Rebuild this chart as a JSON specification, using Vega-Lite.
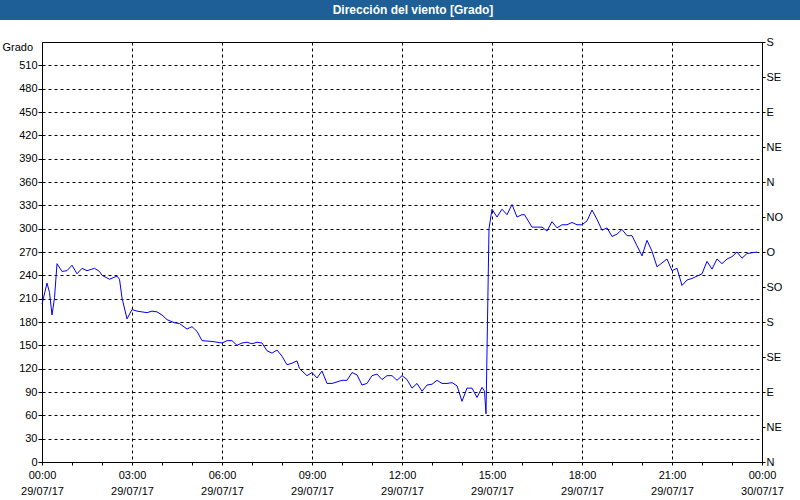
{
  "$schema": "https://vega.github.io/schema/vega-lite/v6.json",
  "padding": 0,
  "background": "white",
  "spacing": 15,
  "config": {
    "view": {"stroke": null},
    "font": "Liberation Sans",
    "axis": {
      "labelFont": "Liberation Sans",
      "labelFontSize": 11,
      "labelColor": "black",
      "tickColor": "black",
      "domainColor": "black",
      "titleFont": "Liberation Sans",
      "titleColor": "black",
      "labelFlush": false,
      "labelOverlap": false
    }
  },
  "vconcat": [
    {
      "width": 800,
      "height": 20,
      "view": {"fill": "#1d5f96", "stroke": null},
      "data": {"values": [{"title": "Dirección del viento [Grado]"}]},
      "mark": {"type": "text", "color": "white", "font": "Liberation Sans", "fontSize": 12, "fontWeight": "bold", "dx": 13, "align": "center", "baseline": "middle"},
      "encoding": {"text": {"field": "title"}}
    },
    {
      "spacing": 0,
      "hconcat": [
        {
          "width": 1,
          "height": 420,
          "data": {"values": []},
          "mark": "point"
        },
        {
          "width": 720,
          "height": 420,
          "view": {"stroke": "black", "fill": "white"},
          "data": {"values": [
            {"t": "2017-07-29T00:00", "v": 203},
            {"t": "2017-07-29T00:10", "v": 230},
            {"t": "2017-07-29T00:15", "v": 218},
            {"t": "2017-07-29T00:20", "v": 189},
            {"t": "2017-07-29T00:25", "v": 211},
            {"t": "2017-07-29T00:30", "v": 255},
            {"t": "2017-07-29T00:40", "v": 245},
            {"t": "2017-07-29T00:50", "v": 246},
            {"t": "2017-07-29T01:00", "v": 253},
            {"t": "2017-07-29T01:10", "v": 242},
            {"t": "2017-07-29T01:20", "v": 249},
            {"t": "2017-07-29T01:30", "v": 246},
            {"t": "2017-07-29T01:40", "v": 248},
            {"t": "2017-07-29T01:45", "v": 249},
            {"t": "2017-07-29T01:55", "v": 245},
            {"t": "2017-07-29T02:00", "v": 240},
            {"t": "2017-07-29T02:15", "v": 235},
            {"t": "2017-07-29T02:30", "v": 239},
            {"t": "2017-07-29T02:35", "v": 235},
            {"t": "2017-07-29T02:40", "v": 211},
            {"t": "2017-07-29T02:50", "v": 184},
            {"t": "2017-07-29T03:00", "v": 196},
            {"t": "2017-07-29T03:10", "v": 194},
            {"t": "2017-07-29T03:30", "v": 192},
            {"t": "2017-07-29T03:40", "v": 194},
            {"t": "2017-07-29T03:50", "v": 193},
            {"t": "2017-07-29T04:00", "v": 189},
            {"t": "2017-07-29T04:10", "v": 183},
            {"t": "2017-07-29T04:25", "v": 179},
            {"t": "2017-07-29T04:35", "v": 178},
            {"t": "2017-07-29T04:50", "v": 171},
            {"t": "2017-07-29T05:00", "v": 174},
            {"t": "2017-07-29T05:05", "v": 171},
            {"t": "2017-07-29T05:10", "v": 168},
            {"t": "2017-07-29T05:20", "v": 156},
            {"t": "2017-07-29T05:40", "v": 155},
            {"t": "2017-07-29T06:00", "v": 153},
            {"t": "2017-07-29T06:10", "v": 156},
            {"t": "2017-07-29T06:20", "v": 156},
            {"t": "2017-07-29T06:30", "v": 150},
            {"t": "2017-07-29T06:40", "v": 153},
            {"t": "2017-07-29T06:50", "v": 154},
            {"t": "2017-07-29T07:00", "v": 152},
            {"t": "2017-07-29T07:10", "v": 154},
            {"t": "2017-07-29T07:20", "v": 153},
            {"t": "2017-07-29T07:30", "v": 143},
            {"t": "2017-07-29T07:40", "v": 140},
            {"t": "2017-07-29T07:50", "v": 144},
            {"t": "2017-07-29T08:00", "v": 136},
            {"t": "2017-07-29T08:10", "v": 125},
            {"t": "2017-07-29T08:20", "v": 127},
            {"t": "2017-07-29T08:30", "v": 130},
            {"t": "2017-07-29T08:35", "v": 120},
            {"t": "2017-07-29T08:50", "v": 111},
            {"t": "2017-07-29T09:00", "v": 115},
            {"t": "2017-07-29T09:10", "v": 108},
            {"t": "2017-07-29T09:20", "v": 117},
            {"t": "2017-07-29T09:30", "v": 101},
            {"t": "2017-07-29T09:40", "v": 101},
            {"t": "2017-07-29T09:50", "v": 103},
            {"t": "2017-07-29T10:00", "v": 105},
            {"t": "2017-07-29T10:10", "v": 105},
            {"t": "2017-07-29T10:20", "v": 115},
            {"t": "2017-07-29T10:30", "v": 112},
            {"t": "2017-07-29T10:40", "v": 99},
            {"t": "2017-07-29T10:50", "v": 101},
            {"t": "2017-07-29T11:00", "v": 111},
            {"t": "2017-07-29T11:10", "v": 113},
            {"t": "2017-07-29T11:20", "v": 106},
            {"t": "2017-07-29T11:30", "v": 111},
            {"t": "2017-07-29T11:40", "v": 111},
            {"t": "2017-07-29T11:50", "v": 105},
            {"t": "2017-07-29T12:00", "v": 111},
            {"t": "2017-07-29T12:10", "v": 106},
            {"t": "2017-07-29T12:20", "v": 95},
            {"t": "2017-07-29T12:30", "v": 101},
            {"t": "2017-07-29T12:40", "v": 91},
            {"t": "2017-07-29T12:50", "v": 99},
            {"t": "2017-07-29T13:00", "v": 100},
            {"t": "2017-07-29T13:10", "v": 105},
            {"t": "2017-07-29T13:20", "v": 101},
            {"t": "2017-07-29T13:30", "v": 101},
            {"t": "2017-07-29T13:40", "v": 102},
            {"t": "2017-07-29T13:50", "v": 98},
            {"t": "2017-07-29T14:00", "v": 78},
            {"t": "2017-07-29T14:10", "v": 95},
            {"t": "2017-07-29T14:20", "v": 95},
            {"t": "2017-07-29T14:30", "v": 83},
            {"t": "2017-07-29T14:40", "v": 96},
            {"t": "2017-07-29T14:45", "v": 91},
            {"t": "2017-07-29T14:48", "v": 62},
            {"t": "2017-07-29T14:54", "v": 300},
            {"t": "2017-07-29T15:00", "v": 325},
            {"t": "2017-07-29T15:10", "v": 315},
            {"t": "2017-07-29T15:20", "v": 325},
            {"t": "2017-07-29T15:30", "v": 318},
            {"t": "2017-07-29T15:40", "v": 331},
            {"t": "2017-07-29T15:50", "v": 315},
            {"t": "2017-07-29T16:00", "v": 318},
            {"t": "2017-07-29T16:05", "v": 318},
            {"t": "2017-07-29T16:20", "v": 302},
            {"t": "2017-07-29T16:30", "v": 302},
            {"t": "2017-07-29T16:40", "v": 302},
            {"t": "2017-07-29T16:50", "v": 297},
            {"t": "2017-07-29T17:00", "v": 309},
            {"t": "2017-07-29T17:10", "v": 301},
            {"t": "2017-07-29T17:20", "v": 305},
            {"t": "2017-07-29T17:30", "v": 305},
            {"t": "2017-07-29T17:40", "v": 308},
            {"t": "2017-07-29T17:50", "v": 305},
            {"t": "2017-07-29T18:00", "v": 305},
            {"t": "2017-07-29T18:10", "v": 310},
            {"t": "2017-07-29T18:20", "v": 324},
            {"t": "2017-07-29T18:30", "v": 312},
            {"t": "2017-07-29T18:40", "v": 298},
            {"t": "2017-07-29T18:50", "v": 301},
            {"t": "2017-07-29T19:00", "v": 290},
            {"t": "2017-07-29T19:10", "v": 293},
            {"t": "2017-07-29T19:20", "v": 299},
            {"t": "2017-07-29T19:30", "v": 291},
            {"t": "2017-07-29T19:40", "v": 291},
            {"t": "2017-07-29T19:50", "v": 278},
            {"t": "2017-07-29T20:00", "v": 265},
            {"t": "2017-07-29T20:10", "v": 285},
            {"t": "2017-07-29T20:20", "v": 271},
            {"t": "2017-07-29T20:30", "v": 251},
            {"t": "2017-07-29T20:40", "v": 256},
            {"t": "2017-07-29T20:50", "v": 261},
            {"t": "2017-07-29T21:00", "v": 246},
            {"t": "2017-07-29T21:10", "v": 249},
            {"t": "2017-07-29T21:20", "v": 227},
            {"t": "2017-07-29T21:30", "v": 234},
            {"t": "2017-07-29T21:40", "v": 236},
            {"t": "2017-07-29T21:50", "v": 239},
            {"t": "2017-07-29T22:00", "v": 242},
            {"t": "2017-07-29T22:10", "v": 258},
            {"t": "2017-07-29T22:20", "v": 248},
            {"t": "2017-07-29T22:30", "v": 261},
            {"t": "2017-07-29T22:40", "v": 255},
            {"t": "2017-07-29T22:50", "v": 261},
            {"t": "2017-07-29T23:00", "v": 264},
            {"t": "2017-07-29T23:10", "v": 270},
            {"t": "2017-07-29T23:20", "v": 262},
            {"t": "2017-07-29T23:30", "v": 268},
            {"t": "2017-07-29T23:50", "v": 270}
          ]},
          "encoding": {
            "x": {
              "field": "t",
              "type": "temporal",
              "scale": {"domain": [{"year": 2017, "month": 7, "date": 29, "hours": 0}, {"year": 2017, "month": 7, "date": 30, "hours": 0}]},
              "axis": {
                "title": null,
                "values": [
                  {"year": 2017, "month": 7, "date": 29, "hours": 0},
                  {"year": 2017, "month": 7, "date": 29, "hours": 1},
                  {"year": 2017, "month": 7, "date": 29, "hours": 2},
                  {"year": 2017, "month": 7, "date": 29, "hours": 3},
                  {"year": 2017, "month": 7, "date": 29, "hours": 4},
                  {"year": 2017, "month": 7, "date": 29, "hours": 5},
                  {"year": 2017, "month": 7, "date": 29, "hours": 6},
                  {"year": 2017, "month": 7, "date": 29, "hours": 7},
                  {"year": 2017, "month": 7, "date": 29, "hours": 8},
                  {"year": 2017, "month": 7, "date": 29, "hours": 9},
                  {"year": 2017, "month": 7, "date": 29, "hours": 10},
                  {"year": 2017, "month": 7, "date": 29, "hours": 11},
                  {"year": 2017, "month": 7, "date": 29, "hours": 12},
                  {"year": 2017, "month": 7, "date": 29, "hours": 13},
                  {"year": 2017, "month": 7, "date": 29, "hours": 14},
                  {"year": 2017, "month": 7, "date": 29, "hours": 15},
                  {"year": 2017, "month": 7, "date": 29, "hours": 16},
                  {"year": 2017, "month": 7, "date": 29, "hours": 17},
                  {"year": 2017, "month": 7, "date": 29, "hours": 18},
                  {"year": 2017, "month": 7, "date": 29, "hours": 19},
                  {"year": 2017, "month": 7, "date": 29, "hours": 20},
                  {"year": 2017, "month": 7, "date": 29, "hours": 21},
                  {"year": 2017, "month": 7, "date": 29, "hours": 22},
                  {"year": 2017, "month": 7, "date": 29, "hours": 23},
                  {"year": 2017, "month": 7, "date": 30, "hours": 0}
                ],
                "labelExpr": "hours(datum.value) % 3 == 0 ? [timeFormat(datum.value, '%H:%M'), timeFormat(datum.value, '%d/%m/%y')] : ''",
                "grid": true,
                "gridColor": "black",
                "gridDash": [3, 3],
                "gridOpacity": {"condition": {"test": "hours(datum.value) % 3 == 0", "value": 1}, "value": 0},
                "tickSize": 3,
                "labelPadding": 4,
                "labelLineHeight": 16,
                "labelBound": false
              }
            }
          },
          "layer": [
            {
              "mark": {"type": "line", "color": "#0000ff", "strokeWidth": 1},
              "encoding": {
                "y": {
                  "field": "v",
                  "type": "quantitative",
                  "scale": {"domain": [0, 540], "nice": false, "zero": true},
                  "axis": {
                    "orient": "left",
                    "values": [0, 30, 60, 90, 120, 150, 180, 210, 240, 270, 300, 330, 360, 390, 420, 450, 480, 510],
                    "title": "\u00a0\u00a0\u00a0\u00a0Grado",
                    "titleAngle": 0,
                    "titleX": -40,
                    "titleY": 5,
                    "titleAlign": "left",
                    "titleBaseline": "middle",
                    "titleFontWeight": "normal",
                    "titleFontSize": 11,
                    "grid": true,
                    "gridColor": "black",
                    "gridDash": [3, 3],
                    "gridOpacity": 1,
                    "tickSize": 4,
                    "labelPadding": 1
                  }
                }
              }
            },
            {
              "mark": {"type": "line", "opacity": 0},
              "encoding": {
                "y": {
                  "field": "v",
                  "type": "quantitative",
                  "scale": {"domain": [0, 540], "nice": false, "zero": true},
                  "axis": {
                    "orient": "right",
                    "values": [0, 45, 90, 135, 180, 225, 270, 315, 360, 405, 450, 495, 540],
                    "labelExpr": "['N','NE','E','SE','S','SO','O','NO','N','NE','E','SE','S'][round(datum.value / 45)]",
                    "title": null,
                    "grid": false,
                    "tickSize": 3,
                    "labelPadding": 1
                  }
                }
              }
            }
          ],
          "resolve": {"scale": {"y": "independent"}}
        }
      ]
    }
  ]
}
